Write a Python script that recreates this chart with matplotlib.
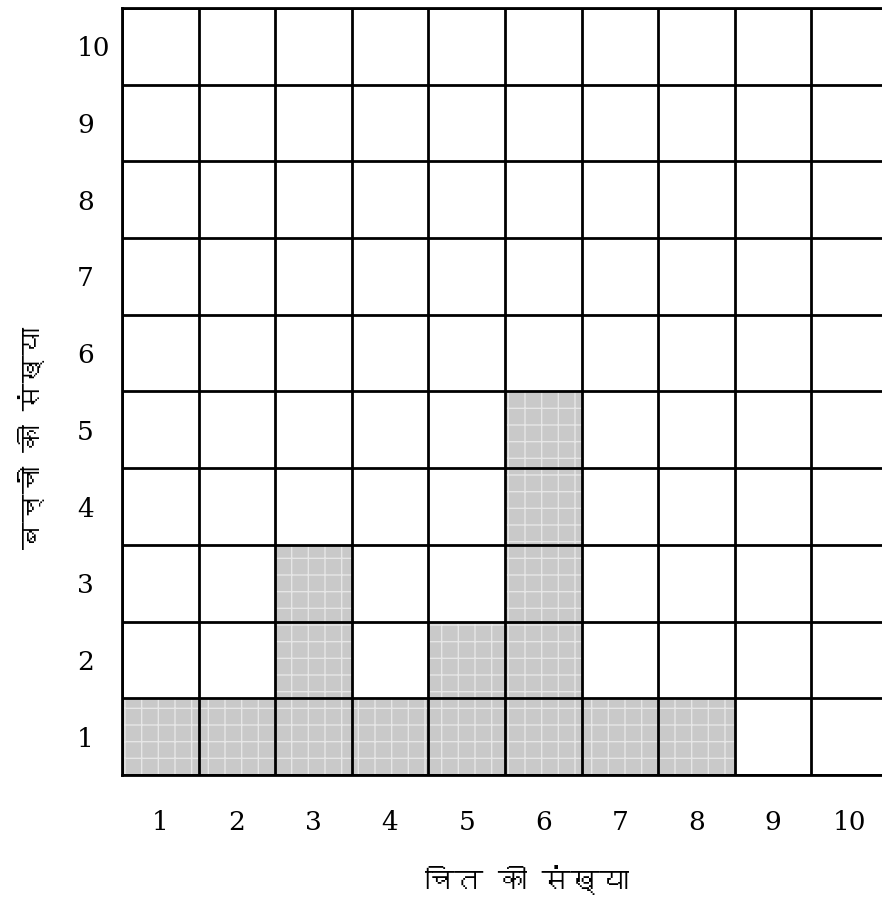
import matplotlib
matplotlib.use("Agg")
import matplotlib.pyplot as plt
from matplotlib import font_manager
from matplotlib.ft2font import FT2Font

# number of heads (x) and how many children got that many (y)
heads = [1, 2, 3, 4, 5, 6, 7, 8, 9, 10]
children = [1, 1, 3, 1, 2, 5, 1, 1, 0, 0]
xlabel = "चित की संख्या"
ylabel = "बच्चों की संख्या"


def find_devanagari_family():
    # pick the first installed font that actually has Devanagari glyphs
    for f in font_manager.fontManager.ttflist:
        try:
            if ord("च") in FT2Font(f.fname).get_charmap():
                return f.name
        except Exception:
            continue
    return None


deva = find_devanagari_family()
label_family = [deva, "DejaVu Sans"] if deva else ["DejaVu Sans"]

plt.rcParams["font.family"] = ["DejaVu Serif"]

fig = plt.figure(figsize=(8.82, 8.97), dpi=100)
ax = fig.add_axes([122 / 882, 1 - 775 / 897, 766 / 882, 767 / 897])

ax.bar(heads, children, width=1.0, bottom=0.5, align="center",
       color="#c9c9c9", edgecolor="#e6e6e6", hatch="+", linewidth=0, zorder=1)

ax.set_xlim(0.5, 10.5)
ax.set_ylim(0.5, 10.5)

# cell borders
ax.set_xticks([i + 0.5 for i in range(0, 11)], minor=True)
ax.set_yticks([i + 0.5 for i in range(0, 11)], minor=True)
ax.grid(which="minor", color="black", linewidth=2.0, zorder=3)
ax.tick_params(which="minor", length=0)

ax.set_xticks(heads)
ax.set_yticks(range(1, 11))
ax.set_xticklabels([str(h) for h in heads], fontsize=19)
ax.set_yticklabels([str(v) for v in range(1, 11)], fontsize=19)
ax.tick_params(which="major", length=0)
ax.tick_params(axis="x", pad=25)
for lbl in ax.get_yticklabels():
    lbl.set_horizontalalignment("left")
ax.tick_params(axis="y", pad=45 / 1.389)

for s in ax.spines.values():
    s.set_linewidth(2.0)
    s.set_zorder(4)

fig.text(527 / 882, 1 - 880 / 897, xlabel, ha="center", va="center",
         fontsize=21, fontweight="bold", family=label_family)
fig.text(32 / 882, 1 - 438 / 897, ylabel, ha="center", va="center",
         rotation=90, fontsize=20, fontweight="bold", family=label_family)

fig.savefig("out.png", dpi=100, facecolor="white")
